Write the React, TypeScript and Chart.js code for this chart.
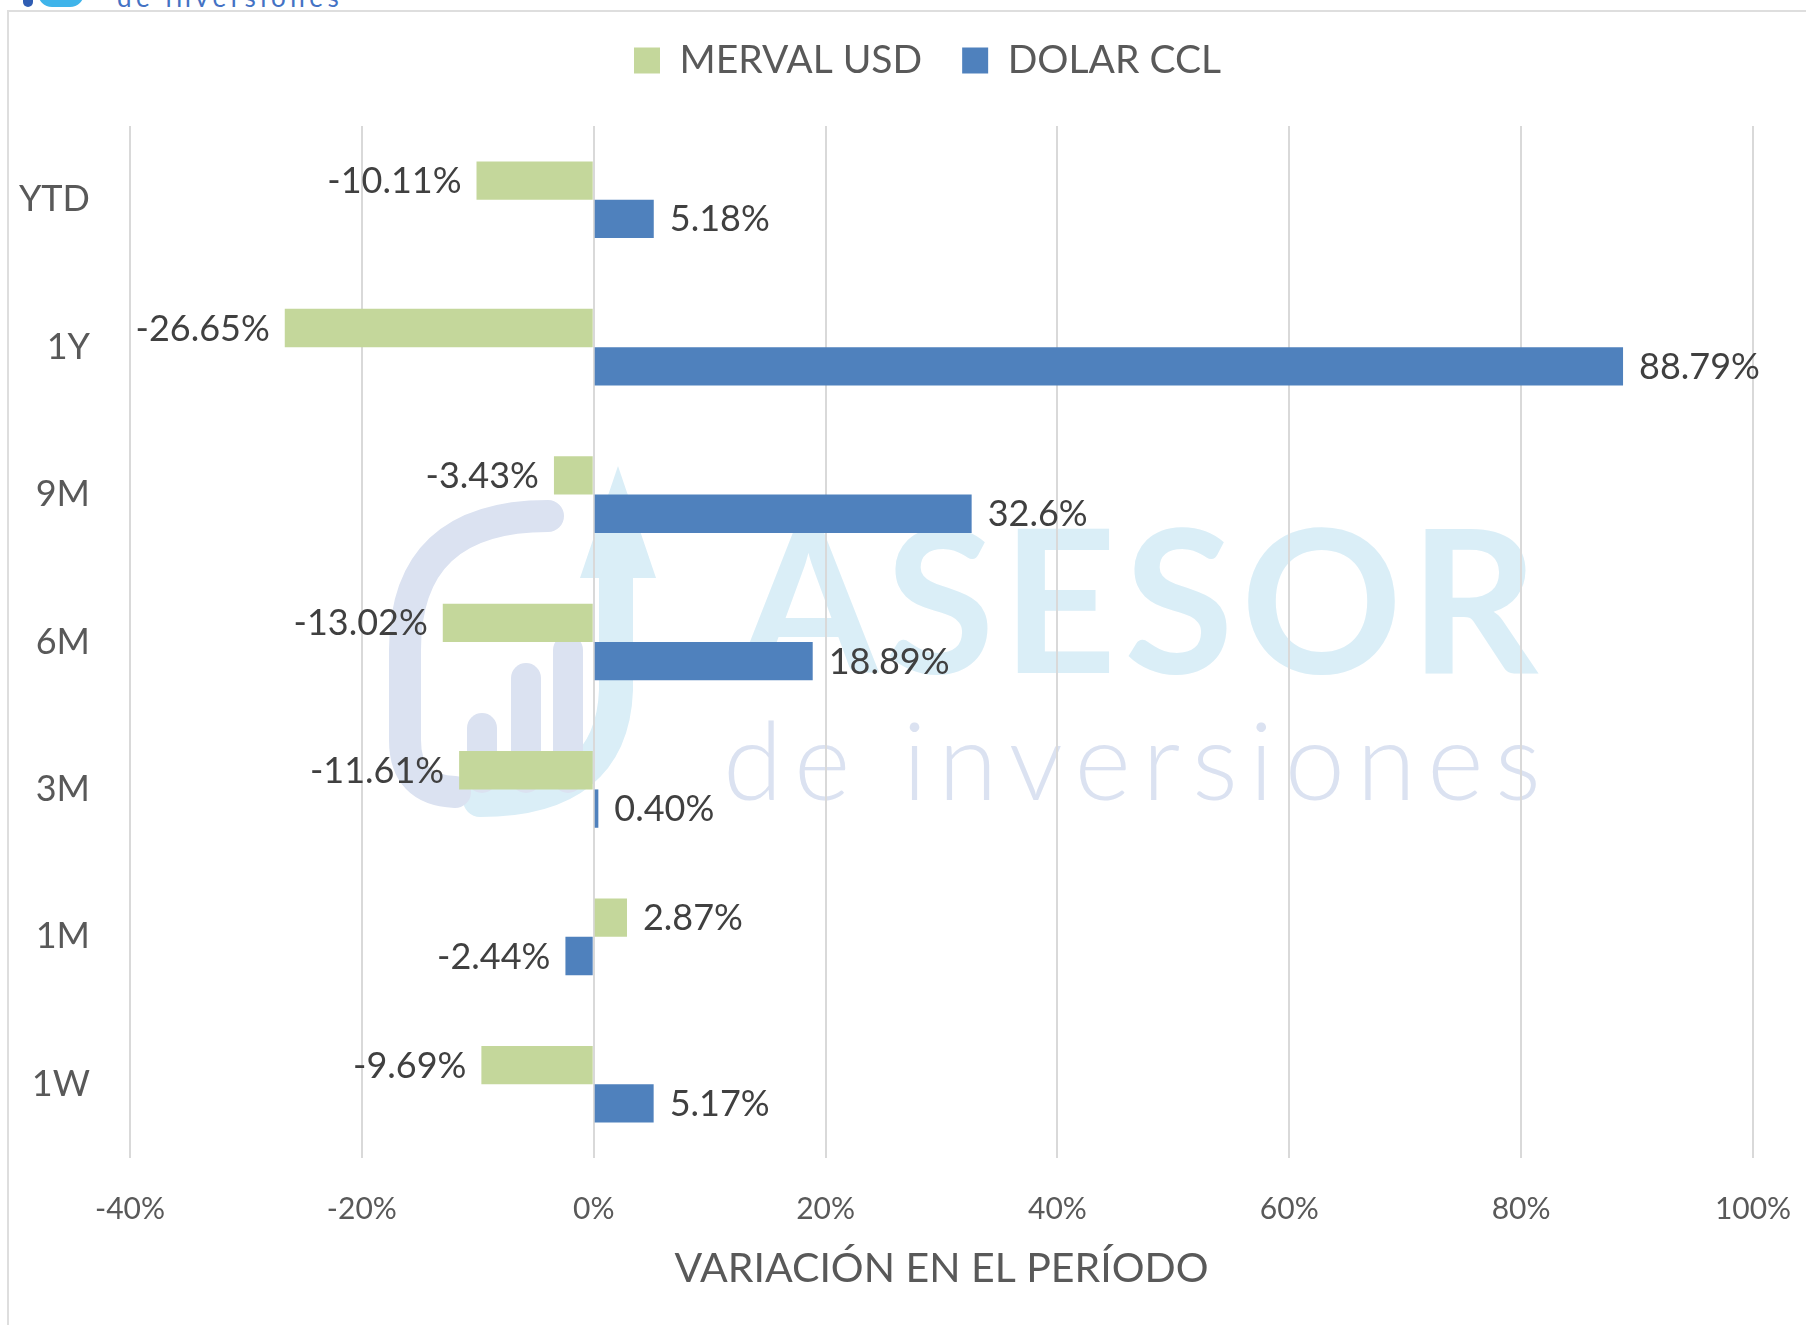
import React, { useEffect, useRef } from 'react';
import { Chart, registerables } from 'chart.js';

Chart.register(...registerables);

// ---- Data ----
const categories = ['YTD', '1Y', '9M', '6M', '3M', '1M', '1W'];
const seriesNames = ['MERVAL USD', 'DOLAR CCL'];
const mervalUsd = [-10.11, -26.65, -3.43, -13.02, -11.61, 2.87, -9.69];
const dolarCcl = [5.18, 88.79, 32.6, 18.89, 0.4, -2.44, 5.17];
const mervalLabels = ['-10.11%', '-26.65%', '-3.43%', '-13.02%', '-11.61%', '2.87%', '-9.69%'];
const dolarLabels = ['5.18%', '88.79%', '32.6%', '18.89%', '0.40%', '-2.44%', '5.17%'];
const xMin = -40;
const xMax = 100;
const xStep = 20;
const axisTitle = 'VARIACIÓN EN EL PERÍODO';
const watermarkBig = 'ASESOR';
const watermarkSmall = 'de inversiones';

const FONT = 'Lato, "Open Sans", "DejaVu Sans", sans-serif';
const GREEN = '#c4d79b';
const BLUE = '#4f81bd';

const PAD_LEFT = 10;
const PAD_RIGHT = 53;
const PAD_TOP = 1;
const LEGEND_PAD = 40;
const LEGEND_START_X = 634;
const CANVAS_W = 1806;
const CANVAS_H = 1325;

const legendSpacer = {
  id: 'legendSpacer',
  beforeInit(chart: any) {
    const legend = chart.legend;
    if (!legend) return;
    const origFit = legend.fit;
    legend.fit = function () {
      origFit.call(this);
      this.height += 36;
      // place the first legend item where the reference has it
      const right = CANVAS_W - PAD_RIGHT;
      this.lineWidths[0] = PAD_LEFT + LEGEND_PAD + right - 2 * LEGEND_START_X;
    };
  },
};

function spacedText(ctx: CanvasRenderingContext2D, text: string, left: number, baseline: number, targetWidth: number) {
  const chars = Array.from(text);
  const widths = chars.map((c) => ctx.measureText(c).width);
  const total = widths.reduce((a, b) => a + b, 0);
  const gap = (targetWidth - total) / (chars.length - 1);
  let x = left;
  chars.forEach((c, i) => {
    ctx.fillText(c, x, baseline);
    x += widths[i] + gap;
  });
}

const watermark = {
  id: 'watermark',
  beforeDraw(chart: any) {
    const ctx: CanvasRenderingContext2D = chart.ctx;
    ctx.save();
    const lav = '#dbe2f1';
    const cyan = '#daeef7';
    ctx.lineCap = 'round';
    ctx.lineJoin = 'round';
    // cyan arrow + curve
    ctx.strokeStyle = cyan;
    ctx.lineWidth = 34;
    ctx.beginPath();
    ctx.moveTo(616, 560);
    ctx.lineTo(616, 690);
    ctx.quadraticCurveTo(612, 800, 480, 800);
    ctx.stroke();
    ctx.fillStyle = cyan;
    ctx.beginPath();
    ctx.moveTo(618, 466);
    ctx.lineTo(656, 578);
    ctx.lineTo(580, 578);
    ctx.closePath();
    ctx.fill();
    // lavender arc
    ctx.strokeStyle = lav;
    ctx.lineWidth = 32;
    ctx.beginPath();
    ctx.moveTo(548, 516);
    ctx.quadraticCurveTo(405, 516, 405, 650);
    ctx.lineTo(405, 740);
    ctx.quadraticCurveTo(405, 790, 455, 792);
    ctx.stroke();
    // bars
    ctx.lineWidth = 30;
    [[482, 728], [526, 678], [568, 650]].forEach(([x, t]) => {
      ctx.beginPath();
      ctx.moveTo(x, t);
      ctx.lineTo(x, 778);
      ctx.stroke();
    });
    // text
    ctx.fillStyle = cyan;
    ctx.font = `bold 200px ${FONT}`;
    ctx.textBaseline = 'alphabetic';
    ctx.textAlign = 'left';
    spacedText(ctx, watermarkBig, 739, 673, 799);
    ctx.fillStyle = lav;
    ctx.font = `300 108px ${FONT}`;
    spacedText(ctx, watermarkSmall, 723, 800, 818);
    ctx.restore();
  },
};

const barLabels = {
  id: 'barLabels',
  afterDatasetsDraw(chart: any) {
    const ctx: CanvasRenderingContext2D = chart.ctx;
    const labelSets = [mervalLabels, dolarLabels];
    ctx.save();
    ctx.font = `36px ${FONT}`;
    ctx.fillStyle = '#404040';
    ctx.textBaseline = 'middle';
    chart.data.datasets.forEach((ds: any, di: number) => {
      const meta = chart.getDatasetMeta(di);
      meta.data.forEach((bar: any, i: number) => {
        const v = ds.data[i];
        const txt = labelSets[di][i];
        if (v >= 0) {
          ctx.textAlign = 'left';
          ctx.fillText(txt, bar.x + 16, bar.y + 1);
        } else {
          ctx.textAlign = 'right';
          ctx.fillText(txt, bar.x - 15, bar.y + 1);
        }
      });
    });
    ctx.restore();
  },
};

export default function App() {
  const ref = useRef<HTMLCanvasElement | null>(null);

  useEffect(() => {
    if (!ref.current) return;
    const chart = new Chart(ref.current, {
      type: 'bar',
      data: {
        labels: categories,
        datasets: [
          {
            label: seriesNames[0],
            data: mervalUsd,
            backgroundColor: GREEN,
            borderWidth: 0,
            categoryPercentage: 0.52,
            barPercentage: 1,
          },
          {
            label: seriesNames[1],
            data: dolarCcl,
            backgroundColor: BLUE,
            borderWidth: 0,
            categoryPercentage: 0.52,
            barPercentage: 1,
          },
        ],
      },
      options: {
        indexAxis: 'y',
        responsive: false,
        animation: false,
        devicePixelRatio: 1,
        layout: { padding: { top: PAD_TOP, left: PAD_LEFT, right: PAD_RIGHT, bottom: 0 } },
        plugins: {
          legend: {
            position: 'top',
            align: 'center',
            labels: {
              boxWidth: 26,
              boxHeight: 26,
              padding: LEGEND_PAD,
              color: '#595959',
              font: { family: FONT, size: 39 },
            },
          },
          tooltip: { enabled: false },
        },
        scales: {
          x: {
            type: 'linear',
            min: xMin,
            max: xMax,
            ticks: {
              stepSize: xStep,
              color: '#595959',
              font: { family: FONT, size: 30 },
              padding: 0,
              callback: (v: any) => `${v}%`,
            },
            grid: {
              color: '#d9d9d9',
              lineWidth: 2,
              drawTicks: true,
              tickLength: 33,
              tickColor: 'rgba(0,0,0,0)',
            },
            border: { display: false },
            title: {
              display: true,
              text: axisTitle,
              color: '#595959',
              font: { family: FONT, size: 41 },
              padding: { top: 0, bottom: 32 },
            },
            afterFit: (scale: any) => {
              scale.height = 167;
            },
          },
          y: {
            type: 'category',
            ticks: {
              color: '#595959',
              font: { family: FONT, size: 36 },
              padding: 40,
            },
            grid: { display: false, drawTicks: false },
            border: { display: false },
            afterFit: (scale: any) => {
              scale.width = 120;
            },
          },
        },
      },
      plugins: [legendSpacer, watermark, barLabels],
    } as any);
    return () => chart.destroy();
  }, []);

  return (
    <div
      style={{
        position: 'absolute',
        left: 0,
        top: 0,
        width: CANVAS_W,
        height: CANVAS_H,
        overflow: 'hidden',
        background: '#ffffff',
      }}
    >
      <div
        style={{
          position: 'absolute',
          left: 7,
          top: 10,
          width: 1900,
          height: 1500,
          borderLeft: '2px solid #dedede',
          borderTop: '2px solid #dedede',
        }}
      />
      <div
        style={{
          position: 'absolute',
          left: 23,
          top: -6,
          width: 10,
          height: 13,
          borderRadius: 5,
          background: '#2f5db3',
        }}
      />
      <div
        style={{
          position: 'absolute',
          left: 38,
          top: -20,
          width: 46,
          height: 27,
          borderRadius: '0 0 14px 14px',
          background: '#3fb4ea',
        }}
      />
      <div
        style={{
          position: 'absolute',
          left: 117,
          top: -18,
          font: `26px ${FONT}`,
          letterSpacing: '4.5px',
          color: '#4472c4',
          whiteSpace: 'nowrap',
          lineHeight: '30px',
        }}
      >
        {watermarkSmall}
      </div>
      <canvas
        ref={ref}
        width={CANVAS_W}
        height={CANVAS_H}
        style={{ position: 'absolute', left: 0, top: 0, width: CANVAS_W, height: CANVAS_H }}
      />
    </div>
  );
}
